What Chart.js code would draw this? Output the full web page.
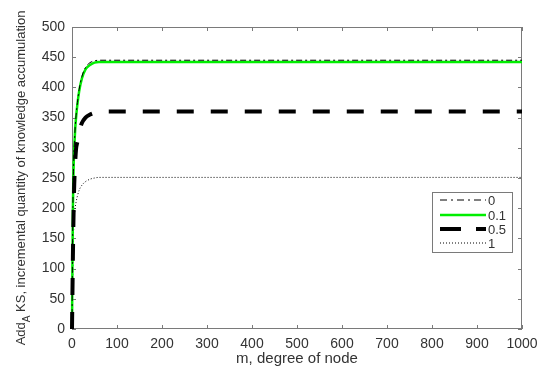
<!DOCTYPE html>
<html><head><meta charset="utf-8">
<script src="https://cdn.jsdelivr.net/npm/chart.js@4/dist/chart.umd.min.js"></script>
<style>html,body{margin:0;padding:0;background:#fff}#wrap{width:550px;height:375px}</style>
</head><body><div id="wrap"><canvas id="c" width="550" height="375"></canvas></div>
<script>
const mValues = [0,1,2,3,4,5,7,9,12,16,22,30,40,50,60,80,100,200,300,400,500,600,700,800,900,1000];
const seriesLabels = ['0','0.1','0.5','1'];
const s0   = [0,112,203,253,283,303,333,353,375,397,418,433,441,444,445,445,445,445,445,445,445,445,445,445,445,445];
const s01  = [0,110,200,250,280,300,330,350,372,394,415,430,437,441,442,442,442,442,442,442,442,442,442,442,442,442];
const s05  = [0,60,120,170,210,240,275,298,310,326,341,350,355,358,360,360,360,360,360,360,360,360,360,360,360,360];
const s1   = [0,60,110,150,170,185,200,210,220,230,238,244,248,250,251,251,251,251,251,251,251,251,251,251,251,251];
const xTicks = [0,100,200,300,400,500,600,700,800,900,1000];
const yTicks = [0,50,100,150,200,250,300,350,400,450,500];
const xTitle = 'm, degree of node';
const yTitleParts = ['Add','A',' KS, incremental quantity of knowledge accumulation'];

const toPts = arr => arr.map((v,i)=>({x:mValues[i],y:v}));
const FONT = '"Liberation Sans", Arial, sans-serif';
const AXIS = '#7a7a7a';
const TXT = '#333333';

const decor = {
  id:'decor',
  beforeDatasetsDraw(chart){
    const {ctx, chartArea:a, scales:{x,y}} = chart;
    ctx.save();
    ctx.strokeStyle = AXIS; ctx.lineWidth = 1; ctx.setLineDash([]);
    ctx.strokeRect(a.left+0.5, a.top+0.5, a.right-a.left-1, a.bottom-a.top-1);
    ctx.beginPath();
    xTicks.forEach(t=>{const px=Math.round(x.getPixelForValue(t))+0.5;
      ctx.moveTo(px,a.bottom); ctx.lineTo(px,a.bottom-4);
      ctx.moveTo(px,a.top); ctx.lineTo(px,a.top+4);});
    yTicks.forEach(t=>{const py=Math.round(y.getPixelForValue(t))+0.5;
      ctx.moveTo(a.left,py); ctx.lineTo(a.left+4,py);
      ctx.moveTo(a.right,py); ctx.lineTo(a.right-4,py);});
    ctx.stroke();
    ctx.restore();
  },
  afterDraw(chart){
    const {ctx, chartArea:a} = chart;
    ctx.save();
    ctx.fillStyle = TXT;
    ctx.font = '15px '+FONT;
    ctx.textAlign='center'; ctx.textBaseline='alphabetic';
    ctx.fillText(xTitle, (a.left+a.right)/2, 363);
    ctx.translate(25, 178);
    ctx.rotate(-Math.PI/2);
    const f1='13px '+FONT, f2='10px '+FONT;
    ctx.font=f1; const w0=ctx.measureText(yTitleParts[0]).width;
    ctx.font=f2; const w1=ctx.measureText(yTitleParts[1]).width;
    ctx.font=f1; const w2=ctx.measureText(yTitleParts[2]).width;
    let sx = -(w0+w1+w2)/2;
    ctx.textAlign='left';
    ctx.font=f1; ctx.fillText(yTitleParts[0], sx, 0); sx+=w0;
    ctx.font=f2; ctx.fillText(yTitleParts[1], sx, 5); sx+=w1;
    ctx.font=f1; ctx.fillText(yTitleParts[2], sx, 0);
    ctx.restore();
    // legend
    ctx.save();
    const lx=432, ly=192, lw=80, lh=60;
    const rows=[200,215,229,243];
    ctx.fillStyle='#fff'; ctx.fillRect(lx,ly,lw,lh);
    ctx.strokeStyle=AXIS; ctx.lineWidth=1; ctx.strokeRect(lx+0.5,ly+0.5,lw,lh);
    chart.data.datasets.forEach((ds,i)=>{
      const yy = rows[i];
      ctx.strokeStyle=ds.borderColor; ctx.lineWidth=ds.borderWidth;
      ctx.setLineDash(ds.legendDash||ds.borderDash||[]);
      ctx.beginPath(); ctx.moveTo(lx+8,yy); ctx.lineTo(lx+54,yy); ctx.stroke();
      ctx.setLineDash([]);
      ctx.fillStyle=TXT; ctx.font='13px '+FONT; ctx.textAlign='left'; ctx.textBaseline='middle';
      ctx.fillText(ds.label, lx+56, yy+1);
    });
    ctx.restore();
  }
};

new Chart(document.getElementById('c'), {
  type:'line',
  data:{datasets:[
    {label:seriesLabels[0], data:toPts(s0), borderColor:'#000', borderWidth:1, borderDash:[6,3,2,3], legendDash:[7,4,2,4], order:1},
    {label:seriesLabels[1], data:toPts(s01), borderColor:'#00ee00', borderWidth:2.5, order:2},
    {label:seriesLabels[2], data:toPts(s05), borderColor:'#000', borderWidth:4, borderDash:[17,17], legendDash:[21,15], order:0},
    {label:seriesLabels[3], data:toPts(s1), borderColor:'#000', borderWidth:1, borderDash:[1,2], order:3}
  ].map(d=>Object.assign({pointRadius:0, fill:false, cubicInterpolationMode:'monotone', clip:false}, d))},
  options:{
    responsive:false, animation:false, devicePixelRatio:1,
    layout:{padding:{left:0,right:28,top:27,bottom:0}},
    plugins:{legend:{display:false}, tooltip:{enabled:false}},
    scales:{
      x:{type:'linear', min:0, max:1000,
        afterFit(s){s.height=46;},
        afterBuildTicks(s){s.ticks = xTicks.map(v=>({value:v}));},
        grid:{display:false, drawTicks:false}, border:{display:false},
        ticks:{color:TXT, font:{family:FONT,size:14}, padding:7, maxRotation:0, callback:v=>String(v)}},
      y:{type:'linear', min:0, max:500,
        afterFit(s){s.width=72;},
        afterBuildTicks(s){s.ticks = yTicks.map(v=>({value:v}));},
        grid:{display:false, drawTicks:false}, border:{display:false},
        ticks:{color:TXT, font:{family:FONT,size:14}, padding:7, callback:v=>String(v)}}
    }
  },
  plugins:[decor]
});
</script></body></html>
